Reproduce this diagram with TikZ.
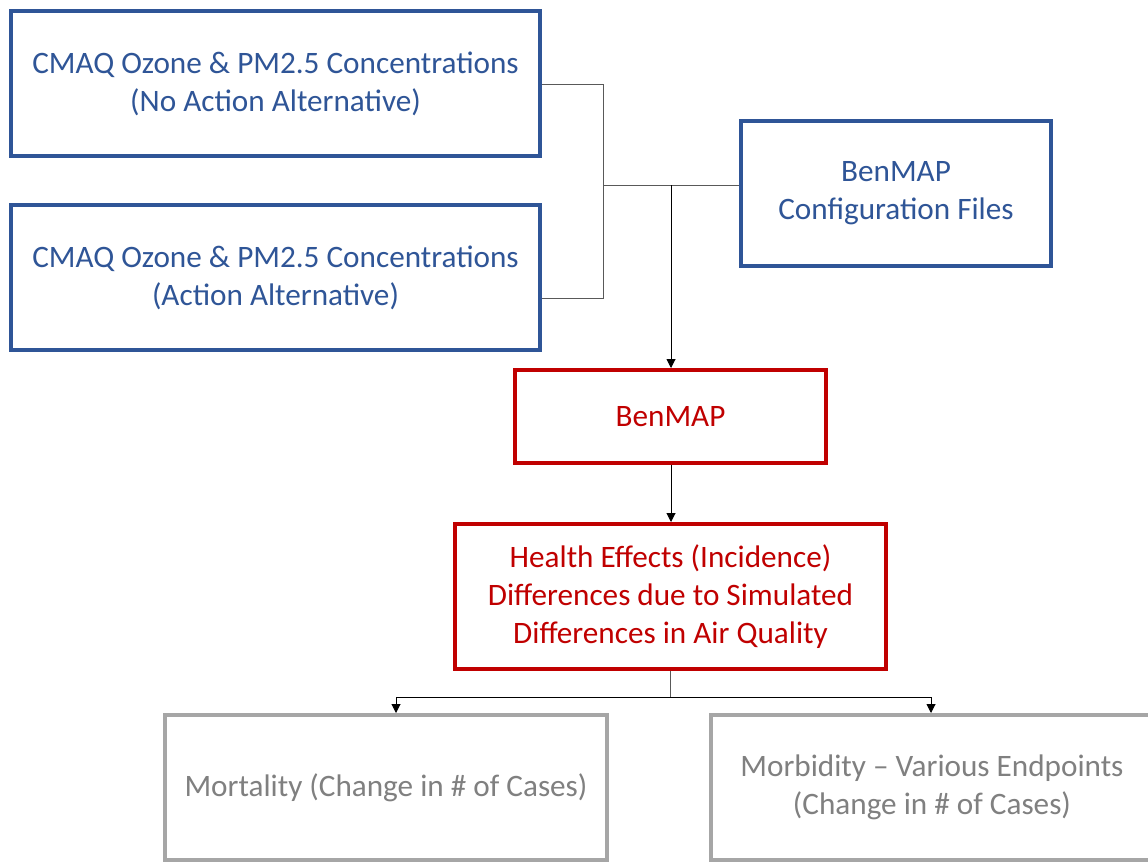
\documentclass[tikz,border=0pt]{standalone}
\usepackage{fontspec}
\setmainfont{Carlito}
\usetikzlibrary{arrows.meta}
\definecolor{cblue}{HTML}{2F5597}
\definecolor{cred}{HTML}{C00000}
\definecolor{cgrayb}{HTML}{A6A6A6}
\definecolor{cgrayt}{HTML}{808080}
\definecolor{cline}{HTML}{595959}
\begin{document}
\begin{tikzpicture}[x=1pt,y=-1pt,
  box/.style={draw, line width=4pt, inner sep=0pt, align=center,
    font=\fontsize{31.2}{38}\selectfont},
  bluebox/.style={box, draw=cblue, text=cblue},
  redbox/.style={box, draw=cred, text=cred},
  graybox/.style={box, draw=cgrayb, text=cgrayt},
  conn/.style={draw=cline, line width=1pt},
  arr/.style={conn, -{Triangle[length=9pt,width=9pt]}, black}]
\useasboundingbox[fill=white] (0,0) rectangle (1148,863);
\node[bluebox, minimum width=529pt, minimum height=145pt] (noact) at (275.5,83.5)
  {CMAQ Ozone \& PM2.5 Concentrations\\(No Action Alternative)};
\node[bluebox, minimum width=529pt, minimum height=145pt] (act) at (275.5,277.5)
  {CMAQ Ozone \& PM2.5 Concentrations\\(Action Alternative)};
\node[bluebox, minimum width=310pt, minimum height=145pt] (conf) at (896,193.5)
  {BenMAP\\Configuration Files};
\node[redbox, minimum width=311pt, minimum height=93pt] (benmap) at (670.5,416.5)
  {BenMAP};
\node[redbox, minimum width=431pt, minimum height=145pt] (health) at (670.5,596.5)
  {Health Effects (Incidence)\\Differences due to Simulated\\Differences in Air Quality};
\node[graybox, minimum width=442pt, minimum height=145pt] (mort) at (386,787.5)
  {Mortality (Change in \# of Cases)};
\node[graybox, minimum width=442pt, minimum height=145pt] (morb) at (932,787.5)
  {Morbidity -- Various Endpoints\\(Change in \# of Cases)};
% connectors
\coordinate (j1) at (603,185);
\coordinate (j2) at (671,185);
\coordinate (j3) at (670,697);
\draw[conn] (noact.east |- 0,84) -| (j1);
\draw[conn] (act.east |- 0,298) -| (j1);
\draw[conn] (j1) -- (conf.west |- j1);
\draw[arr] (j2) -- (j2 |- benmap.north);
\draw[arr] (benmap.south -| 671,0) -- (health.north -| 671,0);
\draw[conn] (health.south -| j3) -- (j3);
\draw[arr] (j3) -| (396,0 |- mort.north);
\draw[arr] (j3) -| (931,0 |- morb.north);
\end{tikzpicture}
\end{document}
